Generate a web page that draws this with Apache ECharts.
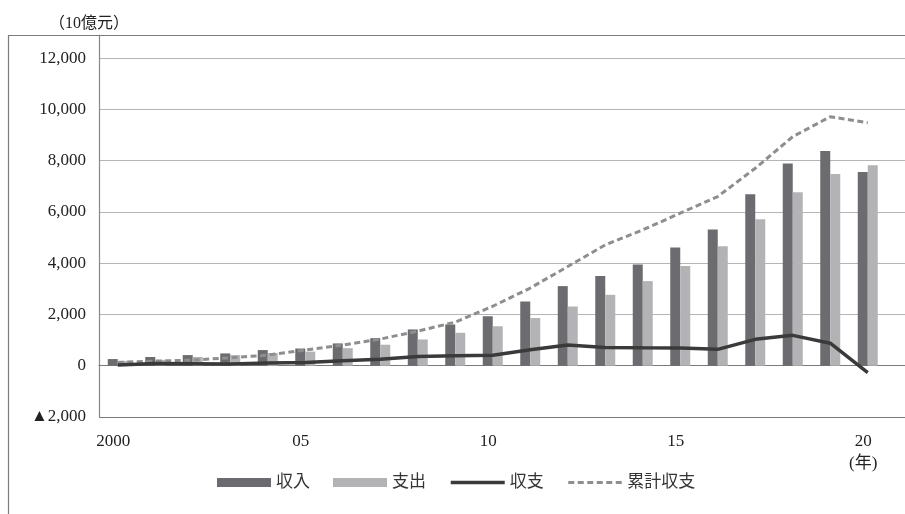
<!DOCTYPE html>
<html>
<head>
<meta charset="utf-8">
<script src="https://cdn.jsdelivr.net/npm/echarts@6/dist/echarts.min.js"></script>
<style>
  html, body { margin: 0; padding: 0; background: #fff; }
  #chart { width: 905px; height: 514px; }
</style>
</head>
<body>
<div id="chart"></div>
<script>
// Years on the category axis
const years = ['2000','2001','2002','2003','2004','2005','2006','2007','2008','2009','2010',
               '2011','2012','2013','2014','2015','2016','2017','2018','2019','2020'];
// Tick labels shown under the axis (every fifth year)
const yearTickLabels = { '2000': '2000', '2005': '05', '2010': '10', '2015': '15', '2020': '20\n(年)' };

// Values in 10億元
const revenue     = [260, 340, 415, 480, 610, 670, 870, 1075, 1415, 1610, 1930, 2505, 3105, 3495, 3945, 4610, 5315, 6690, 7885, 8375, 7560];
const expenditure = [190, 230, 340, 415, 495, 550, 685, 820, 1025, 1285, 1540, 1860, 2310, 2765, 3300, 3885, 4665, 5715, 6770, 7480, 7820];
const balance     = [30, 90, 80, 70, 110, 130, 190, 250, 360, 390, 410, 620, 805, 715, 700, 690, 640, 1030, 1185, 880, -270];
const cumulative  = [130, 180, 220, 310, 415, 610, 805, 1040, 1350, 1700, 2320, 3030, 3870, 4715, 5300, 5950, 6600, 7700, 8935, 9710, 9480];

const seriesNames = ['収入', '支出', '収支', '累計収支'];
const unitLabel = '（10億元）';

const FONT = '"Liberation Serif", "Noto Sans CJK JP", serif';

function fmtValue(v) {
  if (v % 2000 !== 0) return '';
  const s = Math.abs(v).toString().replace(/\B(?=(\d{3})+(?!\d))/g, ',');
  return v < 0 ? '▲' + s : s;
}

const chart = echarts.init(document.getElementById('chart'), null, { renderer: 'canvas' });

chart.setOption({
  animation: false,
  backgroundColor: '#ffffff',
  title: {
    text: unitLabel,
    left: 44,
    top: 11,
    textStyle: { fontFamily: FONT, fontSize: 16, fontWeight: 'normal', color: '#222' }
  },
  graphic: [{
    type: 'rect',
    silent: true,
    shape: { x: 8.5, y: 35.5, width: 1200, height: 800 },
    style: { fill: 'none', stroke: '#7c7c7c', lineWidth: 1.2 }
  }],
  // the plot runs past the right edge of the canvas, so no outer-bounds fitting
  grid: { left: 99, right: -19, top: 35, bottom: 97, containLabel: false, outerBoundsMode: 'none' },
  legend: {
    left: 212,
    top: 469,
    itemWidth: 54,
    itemHeight: 9,
    itemGap: 23,
    lineStyle: { width: 'inherit' },
    textStyle: { fontFamily: FONT, fontSize: 17, color: '#333' },
    data: [
      { name: seriesNames[0], icon: 'rect' },
      { name: seriesNames[1], icon: 'rect' },
      { name: seriesNames[2], itemStyle: { opacity: 0 } },
      { name: seriesNames[3], itemStyle: { opacity: 0 } }
    ]
  },
  xAxis: {
    type: 'category',
    data: years,
    max: years.length,
    boundaryGap: true,
    axisLine: { lineStyle: { color: '#7a7a7a', width: 1.2 } },
    axisTick: { show: false },
    splitLine: { show: false },
    axisLabel: {
      interval: 4,
      margin: 14,
      fontFamily: FONT,
      fontSize: 17,
      lineHeight: 22,
      color: '#222',
      padding: [0, 9, 0, 0],
      formatter: function (v) { return yearTickLabels[v] || ''; }
    }
  },
  yAxis: {
    type: 'value',
    min: -2000,
    max: 12900,
    interval: 2000,
    axisLine: { show: true, lineStyle: { color: '#888', width: 1.2 } },
    axisTick: { show: false },
    axisLabel: {
      margin: 13,
      fontFamily: FONT,
      fontSize: 17,
      color: '#222',
      formatter: fmtValue
    },
    splitLine: {
      show: true,
      lineStyle: {
        width: 1.2,
        color: ['#7a7a7a', '#555555', '#b5b5b5', '#b5b5b5', '#b5b5b5', '#b5b5b5', '#b5b5b5', '#b5b5b5', '#7c7c7c']
      }
    }
  },
  series: [
    {
      name: seriesNames[0],
      type: 'bar',
      data: revenue,
      barWidth: 10,
      barGap: '0%',
      itemStyle: { color: '#6c6c70' },
      z: 2
    },
    {
      name: seriesNames[1],
      type: 'bar',
      data: expenditure,
      barWidth: 10,
      barGap: '0%',
      itemStyle: { color: '#b3b3b6' },
      z: 2
    },
    {
      name: seriesNames[2],
      type: 'line',
      data: balance,
      symbol: 'none',
      lineStyle: { color: '#3a3a3a', width: 3.5 },
      itemStyle: { color: '#3a3a3a' },
      z: 4
    },
    {
      name: seriesNames[3],
      type: 'line',
      data: cumulative,
      symbol: 'none',
      lineStyle: { color: '#8e8e8e', width: 3, type: [6, 3.5] },
      itemStyle: { color: '#8e8e8e' },
      z: 3
    }
  ]
});
</script>
</body>
</html>
